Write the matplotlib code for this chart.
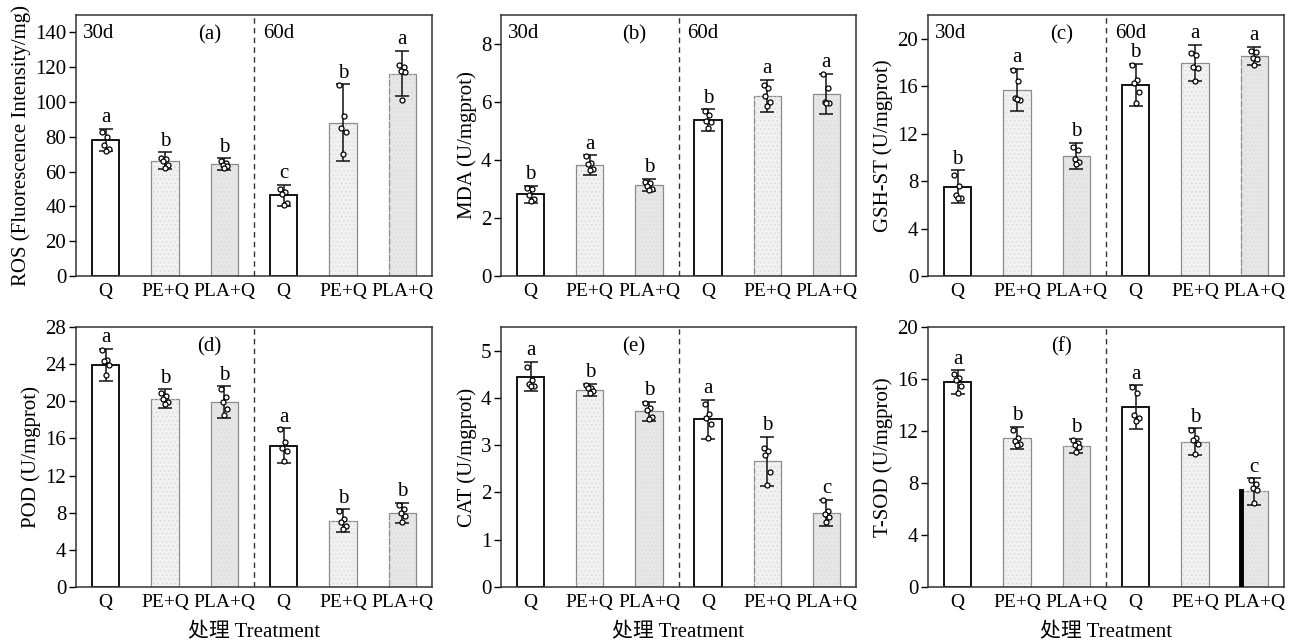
import matplotlib
matplotlib.use("Agg")
import matplotlib.pyplot as plt
import numpy as np

plt.rcParams['font.family'] = ['Liberation Serif', 'Noto Sans CJK SC']
plt.rcParams['hatch.linewidth'] = 0.6

treatments = ["Q", "PE+Q", "PLA+Q", "Q", "PE+Q", "PLA+Q"]

# (a) ROS
ros_mean = [78.3, 66.2, 64.4, 46.5, 88.1, 116.3]
ros_sd = [6.3, 4.9, 3.3, 6.0, 22.0, 13.0]
ros_pts = [[83, 80, 75, 73, 72], [68, 67, 66, 64, 62], [66, 65, 64, 63, 62],
           [50, 48, 47, 42, 41], [110, 92, 85, 83, 70], [121, 120, 118, 117, 101]]
ros_letters = ["a", "b", "b", "c", "b", "a"]

# (b) MDA
mda_mean = [2.82, 3.83, 3.14, 5.38, 6.21, 6.28]
mda_sd = [0.30, 0.33, 0.22, 0.37, 0.55, 0.70]
mda_pts = [[3.02, 3.0, 2.8, 2.65, 2.6], [4.15, 3.9, 3.85, 3.7, 3.65], [3.25, 3.22, 3.1, 3.0, 2.95],
           [5.7, 5.55, 5.35, 5.3, 5.1], [6.6, 6.5, 6.2, 6.0, 5.85], [6.95, 6.5, 6.0, 5.98, 5.95]]
mda_letters = ["b", "a", "b", "b", "a", "a"]

# (c) GSH-ST
gsh_mean = [7.52, 15.69, 10.11, 16.11, 17.97, 18.54]
gsh_sd = [1.38, 1.76, 1.10, 1.76, 1.52, 0.77]
gsh_pts = [[8.5, 7.6, 6.8, 6.6, 6.6], [17.4, 16.4, 15.0, 14.8, 14.9], [10.9, 10.6, 9.9, 9.6, 9.4],
           [17.8, 16.5, 16.3, 15.5, 14.6], [18.8, 18.6, 17.6, 17.5, 16.4], [19.0, 18.9, 18.4, 18.3, 17.8]]
gsh_letters = ["b", "a", "b", "b", "a", "a"]

# (d) POD
pod_mean = [23.93, 20.29, 19.93, 15.23, 7.15, 7.94]
pod_sd = [1.75, 1.02, 1.70, 1.88, 1.20, 1.10]
pod_pts = [[25.5, 24.4, 24.3, 23.9, 22.8], [20.9, 20.6, 20.3, 19.9, 19.7], [21.3, 20.5, 19.9, 19.2, 18.5],
           [17.0, 15.6, 15.0, 14.6, 13.6], [8.2, 7.3, 7.0, 6.6, 6.2], [8.8, 8.4, 8.0, 7.6, 7.0]]
pod_letters = ["a", "b", "b", "a", "b", "b"]

# (e) CAT
cat_mean = [4.45, 4.17, 3.72, 3.55, 2.66, 1.57]
cat_sd = [0.31, 0.13, 0.20, 0.41, 0.52, 0.27]
cat_pts = [[4.65, 4.38, 4.3, 4.26, 4.25], [4.28, 4.22, 4.2, 4.15, 4.1], [3.9, 3.78, 3.75, 3.6, 3.55],
           [3.87, 3.65, 3.58, 3.45, 3.15], [2.95, 2.88, 2.8, 2.43, 2.15], [1.83, 1.6, 1.55, 1.48, 1.38]]
cat_letters = ["a", "b", "b", "a", "b", "c"]

# (f) T-SOD
sod_mean = [15.76, 11.47, 10.87, 13.86, 11.18, 7.35]
sod_sd = [0.90, 0.85, 0.55, 1.67, 1.03, 1.03]
sod_pts = [[16.4, 16.1, 15.9, 15.5, 14.9], [12.1, 11.5, 11.2, 11.0, 10.9], [11.3, 11.1, 10.95, 10.8, 10.4],
           [15.4, 14.9, 13.2, 13.0, 12.8], [12.1, 11.5, 11.3, 11.0, 10.2], [8.2, 7.9, 7.6, 7.5, 6.5]]
sod_letters = ["a", "b", "b", "a", "b", "c"]

ylabels = ["ROS (Fluorescence Intensity/mg)", "MDA (U/mgprot)", "GSH-ST (U/mgprot)",
           "POD (U/mgprot)", "CAT (U/mgprot)", "T-SOD (U/mgprot)"]
panel_tags = ["(a)", "(b)", "(c)", "(d)", "(e)", "(f)"]
ylims = [150, 9, 22, 28, 5.5, 20]
ysteps = [20, 2, 4, 4, 1, 4]

panels = [
    (ros_mean, ros_sd, ros_pts, ros_letters),
    (mda_mean, mda_sd, mda_pts, mda_letters),
    (gsh_mean, gsh_sd, gsh_pts, gsh_letters),
    (pod_mean, pod_sd, pod_pts, pod_letters),
    (cat_mean, cat_sd, cat_pts, cat_letters),
    (sod_mean, sod_sd, sod_pts, sod_letters),
]

W, H = 1305, 643
fig = plt.figure(figsize=(W / 100, H / 100), dpi=100)

# axes boxes in pixels: left, right, top, bottom
cols = [(76, 432), (501, 856), (928, 1284)]
rows = [(15, 276), (327, 587)]

face = ["white", "#f1f1f1", "#e6e6e6", "white", "#f1f1f1", "#e6e6e6"]
edge = ["black", "#8a8a8a", "#8a8a8a", "black", "#8a8a8a", "#8a8a8a"]
elw = [1.3, 0.9, 0.9, 1.3, 0.9, 0.9]
jitter = [-0.06, 0.02, -0.03, 0.05, 0.0]
fs = 15
fs_x = 14

x = np.arange(len(treatments))
for i, (mean, sd, pts, letters) in enumerate(panels):
    l, r = cols[i % 3]
    t, b = rows[i // 3]
    ax = fig.add_axes([l / W, 1 - b / H, (r - l) / W, (b - t) / H])
    ax.bar(x, mean, width=0.46, color=face, edgecolor=edge, linewidth=elw, zorder=2)
    ax.bar(x[[1, 2, 4, 5]], np.array(mean)[[1, 2, 4, 5]], width=0.44, color="none",
           edgecolor="#dadada", hatch="....", linewidth=0, zorder=2.1)
    ax.errorbar(x, mean, yerr=sd, fmt="none", ecolor="#111111", elinewidth=1.1,
                capsize=5, capthick=1.1, zorder=3)
    for k in range(len(x)):
        xs = x[k] + np.array(jitter[:len(pts[k])])
        ax.plot(xs, pts[k], "o", ms=3.6, mfc="white", mec="black", mew=0.9, zorder=4)
        ax.text(x[k], mean[k] + sd[k] + ylims[i] * 0.006, letters[k], ha="center",
                va="bottom", fontsize=fs)
    if i == 5:
        ax.plot([x[5] - 0.23, x[5] - 0.23], [0, mean[5]], color="black", lw=3.5, zorder=3)
    ax.axvline(2.5, color="#333333", ls=(0, (4, 3)), lw=1)
    ax.set_xlim(-0.5, 5.5)
    ax.set_ylim(0, ylims[i])
    ax.set_yticks(np.arange(0, ylims[i] + 1e-9, ysteps[i]))
    ax.set_xticks(x)
    ax.set_xticklabels(treatments)
    ax.tick_params(axis="x", length=0, labelsize=fs_x, pad=5)
    ax.tick_params(axis="y", length=5, width=1, labelsize=fs, direction="out", pad=2)
    for s in ax.spines.values():
        s.set_color("#333333")
        s.set_linewidth(1.1)
    ax.set_ylabel(ylabels[i], fontsize=fs, labelpad=3)
    ax.text(0.375, 0.925, panel_tags[i], transform=ax.transAxes, ha="center", va="center", fontsize=fs)
    if i < 3:
        ax.text(0.02, 0.93, "30d", transform=ax.transAxes, ha="left", va="center", fontsize=fs)
        ax.text(0.525, 0.93, "60d", transform=ax.transAxes, ha="left", va="center", fontsize=fs)
    else:
        ax.set_xlabel("处理 Treatment", fontsize=fs, labelpad=9)

fig.savefig("out.png", dpi=100)
